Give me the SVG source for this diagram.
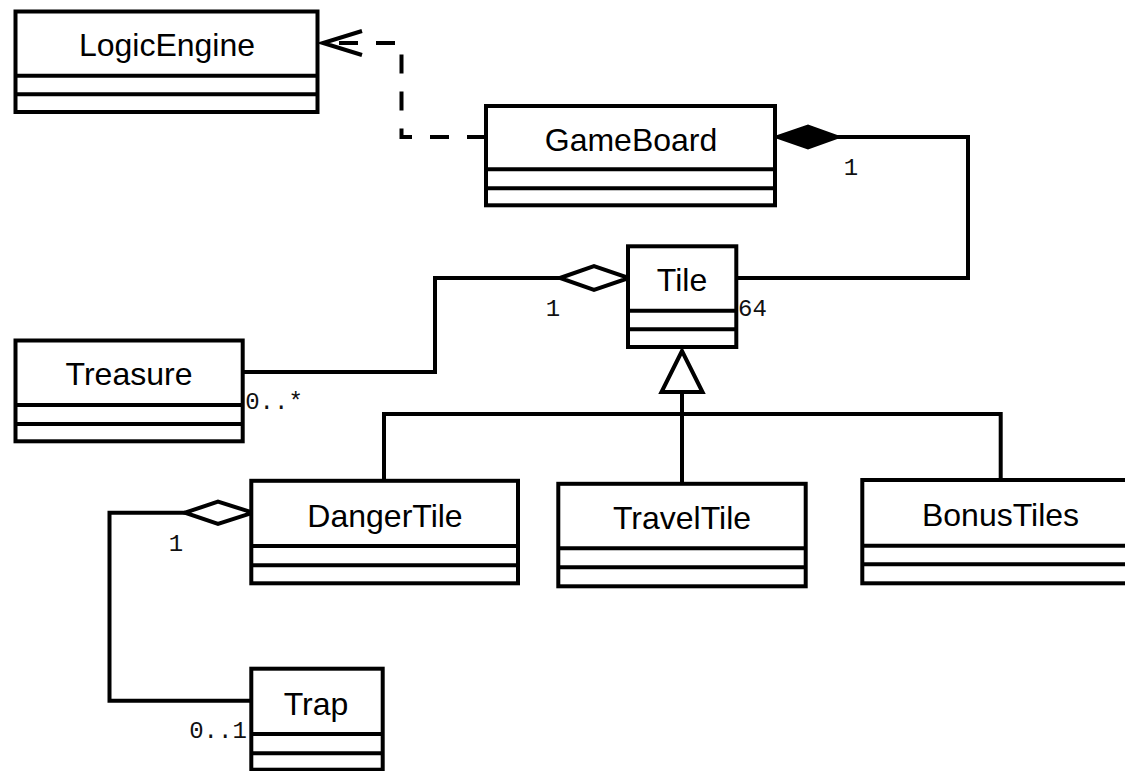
<svg xmlns="http://www.w3.org/2000/svg" width="1125" height="771" viewBox="0 0 1125 771">
<style>
.box{fill:#fff;stroke:#000;stroke-width:4}
.sep{stroke:#000;stroke-width:4}
.name{font-family:"Liberation Sans",Arial,sans-serif;font-size:32px;text-anchor:middle;fill:#000}
.edge{fill:none;stroke:#000;stroke-width:4}
.dash{stroke-dasharray:19 18}
.hollow{fill:#fff;stroke:#000;stroke-width:4}
.solid{fill:#000;stroke:#000;stroke-width:4;stroke-linejoin:miter}
.mult{font-family:"Liberation Mono","Courier New",monospace;font-size:24px;text-anchor:middle;fill:#111}
</style>
<rect width="1125" height="771" fill="#fff"/>
<g id="connectors">
<path class="edge dash" d="M486 137 H401.5 V43 H326"/>
<polyline class="edge" points="362,31 323,43 362,55"/>
<path class="edge" d="M837 137 H968 V278 H738"/>
<polygon class="solid" points="778,137 808,126.5 837,137 808,147.5"/>
<path class="edge" d="M560 278 H435 V372 H243"/>
<polygon class="hollow" points="560,278 594,266 629,278 594,290"/>
<path class="edge" d="M682 392 V484"/>
<path class="edge" d="M384 481 V414 H1000.7 V480"/>
<polygon class="hollow" points="682,351 661.5,392 702.5,392"/>
<path class="edge" d="M185 512.7 H109.5 V700.7 H251"/>
<polygon class="hollow" points="185,512.7 218,501.7 253,512.7 218,524"/>
<text class="mult" x="851" y="175">1</text>
<text class="mult" x="553" y="316">1</text>
<text class="mult" x="752.5" y="316">64</text>
<text class="mult" x="274" y="409.3">0..*</text>
<text class="mult" x="176" y="550.7">1</text>
<text class="mult" x="218" y="738.3">0..1</text>
</g>
<g id="LogicEngine">
<rect class="box" x="15.5" y="11.5" width="302" height="100.5"/>
<line class="sep" x1="15.5" y1="75.7" x2="317.5" y2="75.7"/>
<line class="sep" x1="15.5" y1="94.3" x2="317.5" y2="94.3"/>
<text class="name" x="167" y="56">LogicEngine</text>
</g>
<g id="GameBoard">
<rect class="box" x="486" y="106" width="289" height="99.3"/>
<line class="sep" x1="486" y1="169.3" x2="775" y2="169.3"/>
<line class="sep" x1="486" y1="188.3" x2="775" y2="188.3"/>
<text class="name" x="631" y="150.7">GameBoard</text>
</g>
<g id="Tile">
<rect class="box" x="628" y="246.3" width="108.3" height="100.7"/>
<line class="sep" x1="628" y1="310.7" x2="736.3" y2="310.7"/>
<line class="sep" x1="628" y1="329.3" x2="736.3" y2="329.3"/>
<text class="name" x="682" y="291">Tile</text>
</g>
<g id="Treasure">
<rect class="box" x="15.5" y="340.5" width="227.2" height="100.8"/>
<line class="sep" x1="15.5" y1="405" x2="242.7" y2="405"/>
<line class="sep" x1="15.5" y1="424" x2="242.7" y2="424"/>
<text class="name" x="129" y="385">Treasure</text>
</g>
<g id="DangerTile">
<rect class="box" x="251.3" y="480.8" width="266.7" height="102.5"/>
<line class="sep" x1="251.3" y1="546" x2="518" y2="546"/>
<line class="sep" x1="251.3" y1="565.3" x2="518" y2="565.3"/>
<text class="name" x="385" y="526.7">DangerTile</text>
</g>
<g id="TravelTile">
<rect class="box" x="558.3" y="483.8" width="247.4" height="102.5"/>
<line class="sep" x1="558.3" y1="548.3" x2="805.7" y2="548.3"/>
<line class="sep" x1="558.3" y1="567.3" x2="805.7" y2="567.3"/>
<text class="name" x="682" y="529.3">TravelTile</text>
</g>
<g id="BonusTiles">
<rect class="box" x="862.3" y="480" width="278" height="103.3"/>
<line class="sep" x1="862.3" y1="545.7" x2="1140" y2="545.7"/>
<line class="sep" x1="862.3" y1="564.3" x2="1140" y2="564.3"/>
<text class="name" x="1000.5" y="526">BonusTiles</text>
</g>
<g id="Trap">
<rect class="box" x="251.3" y="668.7" width="131.4" height="101"/>
<line class="sep" x1="251.3" y1="734" x2="382.7" y2="734"/>
<line class="sep" x1="251.3" y1="753.3" x2="382.7" y2="753.3"/>
<text class="name" x="316" y="715">Trap</text>
</g>
</svg>
